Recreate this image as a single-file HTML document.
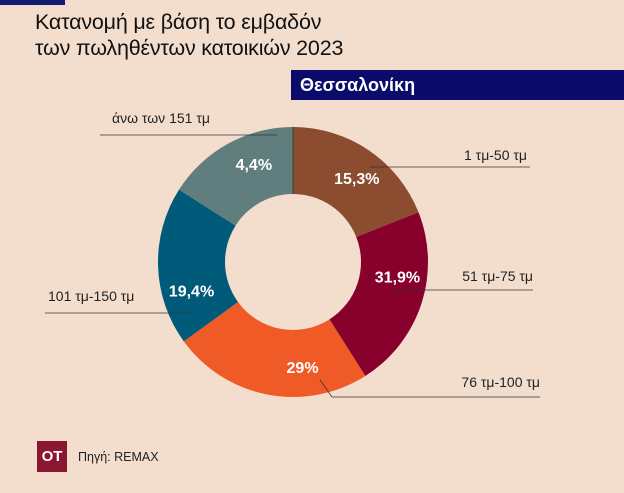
<!DOCTYPE html>
<html><head><meta charset="utf-8">
<style>
body{margin:0;background:#f3dece;}
#wrap{position:relative;width:624px;height:493px;overflow:hidden;background:#f3dece;font-family:"Liberation Sans","Noto Sans CJK SC",sans-serif;}
.t{position:absolute;left:35px;font-size:21.5px;color:#111;font-weight:500;letter-spacing:-0.2px}
</style></head><body>
<div id="wrap">
<div style="position:absolute;left:0;top:0;width:65px;height:5px;background:#141a6e"></div>
<div class="t" style="top:10px">Κατανομή με βάση το εμβαδόν</div>
<div class="t" style="top:36px">των πωληθέντων κατοικιών 2023</div>
<div style="position:absolute;left:291px;top:70px;width:333px;height:30px;background:#0b0b6b;color:#fff;font-size:18px;font-weight:bold;line-height:30px;padding-left:9px;box-sizing:border-box">Θεσσαλονίκη</div>
<svg id="chart" width="624" height="493" style="position:absolute;left:0;top:0"></svg>
<div style="position:absolute;left:37px;top:441px;width:30px;height:31px;background:#8a1631;color:#fff;font-weight:bold;font-size:15px;line-height:31px;text-align:center">OT</div>
<div style="position:absolute;left:78px;top:450px;font-size:12.5px;color:#222">Πηγή: REMAX</div>
</div>
<script>
const categories=["1 τμ-50 τμ","51 τμ-75 τμ","76 τμ-100 τμ","101 τμ-150 τμ","άνω των  151 τμ"];
const labels=["15,3%","31,9%","29%","19,4%","4,4%"];
const sliceShares=[19,22,24,19,16];
const colors=["#8b4c2f","#88002c","#f05a27","#005a7a","#607e7d"];
const labelAngleOffsetDeg=[3,-10,-16,-14,7];
const cx=293,cy=262,R=135,r=68;
const NS="http://www.w3.org/2000/svg";
const svg=document.getElementById("chart");
const total=sliceShares.reduce((a,b)=>a+b,0);
function pt(a,rad){return [cx+rad*Math.sin(a),cy-rad*Math.cos(a)];}
let acc=0;
sliceShares.forEach((v,i)=>{
  const a0=acc/total*2*Math.PI, a1=(acc+v)/total*2*Math.PI; acc+=v;
  const [x0,y0]=pt(a0,R),[x1,y1]=pt(a1,R),[x2,y2]=pt(a1,r),[x3,y3]=pt(a0,r);
  const lg=(a1-a0)>Math.PI?1:0;
  const p=document.createElementNS(NS,"path");
  p.setAttribute("d",`M${x0},${y0}A${R},${R} 0 ${lg} 1 ${x1},${y1}L${x2},${y2}A${r},${r} 0 ${lg} 0 ${x3},${y3}Z`);
  p.setAttribute("fill",colors[i]);
  
  
  svg.appendChild(p);
  const am=(a0+a1)/2+labelAngleOffsetDeg[i]*Math.PI/180;const [lx,ly]=pt(am,(R+r)/2+4);
  const t=document.createElementNS(NS,"text");
  t.setAttribute("x",lx);t.setAttribute("y",ly+6);t.setAttribute("text-anchor","middle");
  t.setAttribute("fill","#fff");t.setAttribute("font-weight","bold");t.setAttribute("font-size","16");
  t.setAttribute("font-family","Liberation Sans, sans-serif");
  t.textContent=labels[i];
  
  
  svg.appendChild(t);
});
const sep=document.createElementNS(NS,"line");
sep.setAttribute("x1",cx);sep.setAttribute("y1",cy-R);sep.setAttribute("x2",cx);sep.setAttribute("y2",cy-r);
sep.setAttribute("stroke","#333");sep.setAttribute("stroke-width","0.8");


svg.appendChild(sep);
const callouts=[
 [527,160,"end","370,167 530,167"],
 [533,281,"end","393,290 533,290"],
 [540,387,"end","320,380 332,397 540,397"],
 [48,301,"start","45,313 190,313"],
 [112,123,"start","100,135 277,135"]
];
callouts.forEach((c,i)=>{
  const l=document.createElementNS(NS,"polyline");
  l.setAttribute("points",c[3]);l.setAttribute("fill","none");l.setAttribute("stroke","#333");l.setAttribute("stroke-width","0.8");
  
  
  svg.appendChild(l);
  const t=document.createElementNS(NS,"text");
  t.setAttribute("x",c[0]);t.setAttribute("y",c[1]);t.setAttribute("text-anchor",c[2]);
  t.setAttribute("font-size","14");t.setAttribute("fill","#222");t.setAttribute("font-family","Liberation Sans, sans-serif");
  t.setAttribute("xml:space","preserve");
  t.textContent=categories[i];
  
  
  svg.appendChild(t);
});
</script>
</body></html>
